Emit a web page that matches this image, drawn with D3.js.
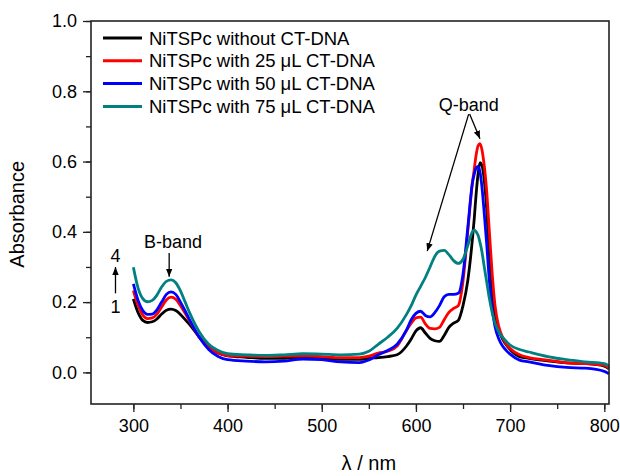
<!DOCTYPE html>
<html>
<head>
<meta charset="utf-8">
<script src="https://cdn.jsdelivr.net/npm/d3@7"></script>
<style>
  body { margin: 0; background: #fff; }
  svg { display: block; font-family: Arial, "Liberation Sans", sans-serif; }
</style>
</head>
<body>
<div id="chart"></div>
<script>
// wavelengths (nm)
const wavelengths = [300,305,310,315,320,325,330,335,340,345,350,355,360,370,380,390,400,
  420,440,460,480,500,520,540,550,560,570,580,590,595,600,605,610,615,620,625,630,635,640,645,
  650,655,660,662,664,666,668,670,672,675,678,681,684,688,692,696,700,710,720,740,760,780,800,805];

// absorbance
const absNoDNA = [.209,.17,.148,.142,.144,.152,.166,.177,.180,.176,.165,.150,.135,.100,.072,.055,.047,
  .043,.040,.040,.042,.040,.037,.037,.040,.042,.045,.050,.075,.095,.118,.127,.112,.097,.090,.088,.105,.128,.140,.148,
  .190,.260,.380,.440,.510,.565,.597,.590,.560,.470,.330,.220,.160,.120,.095,.078,.065,.045,.040,.033,.027,.025,.018,.010];
const abs25 = [.233,.19,.163,.153,.155,.166,.186,.206,.214,.208,.190,.168,.145,.100,.070,.055,.048,
  .046,.045,.046,.047,.045,.042,.042,.046,.055,.060,.075,.120,.140,.155,.157,.138,.125,.124,.128,.150,.171,.182,.190,
  .260,.400,.540,.580,.620,.645,.651,.635,.600,.520,.400,.280,.190,.130,.100,.080,.068,.050,.042,.035,.027,.025,.020,.012];
const abs50 = [.252,.205,.176,.165,.166,.178,.200,.222,.229,.222,.200,.175,.148,.100,.065,.045,.036,
  .032,.030,.032,.038,.036,.030,.028,.035,.050,.062,.080,.120,.150,.168,.174,.162,.158,.170,.190,.215,.222,.222,.225,
  .280,.410,.540,.565,.582,.586,.570,.530,.470,.370,.260,.180,.130,.095,.075,.062,.052,.035,.030,.020,.014,.012,.003,-.004];
const abs75 = [.299,.240,.210,.201,.205,.220,.243,.259,.263,.255,.232,.200,.168,.115,.080,.062,.053,
  .050,.048,.050,.053,.052,.050,.052,.060,.080,.100,.125,.165,.190,.220,.245,.270,.300,.330,.345,.347,.335,.318,.310,
  .322,.360,.400,.405,.400,.390,.370,.345,.310,.260,.210,.170,.140,.115,.100,.088,.078,.065,.058,.045,.036,.030,.025,.018];

const seriesNames = [
  'NiTSPc without CT-DNA',
  'NiTSPc with 25 \u03BCL CT-DNA',
  'NiTSPc with 50 \u03BCL CT-DNA',
  'NiTSPc with 75 \u03BCL CT-DNA'
];
const seriesValues = [absNoDNA, abs25, abs50, abs75];
const seriesColors = ['#000000', '#ff0000', '#0000ff', '#008080'];

const xTicks = [300, 400, 500, 600, 700, 800];
const yTicks = [0.0, 0.2, 0.4, 0.6, 0.8, 1.0];

const width = 620, height = 476;
const margin = { top: 21, right: 11, bottom: 72, left: 91 };
const innerW = width - margin.left - margin.right;
const innerH = height - margin.top - margin.bottom;

const svg = d3.select('#chart').append('svg')
  .attr('width', width)
  .attr('height', height);

const defs = svg.append('defs');
defs.append('marker')
  .attr('id', 'arrow')
  .attr('viewBox', '0 0 10 10')
  .attr('refX', 10).attr('refY', 5)
  .attr('markerWidth', 8).attr('markerHeight', 8)
  .attr('markerUnits', 'userSpaceOnUse')
  .attr('orient', 'auto')
  .append('path')
  .attr('d', 'M0,1 L10,5 L0,9 Z')
  .attr('fill', '#000');

const g = svg.append('g').attr('transform', `translate(${margin.left},${margin.top})`);

const x = d3.scaleLinear().domain([255, 805]).range([0, innerW]);
const y = d3.scaleLinear().domain([-0.09, 1.0]).range([innerH, 0]);

// minor ticks
g.append('g')
  .attr('transform', `translate(0,${innerH})`)
  .call(d3.axisBottom(x).tickValues(d3.range(300, 801, 50)).tickSize(5).tickFormat(''))
  .call(s => s.select('.domain').remove());
g.append('g')
  .call(d3.axisLeft(y).tickValues(d3.range(-0.1, 1.0001, 0.1).filter(v => v >= -0.09)).tickSize(5).tickFormat(''))
  .call(s => s.select('.domain').remove());

// major ticks
const xAxis = g.append('g')
  .attr('transform', `translate(0,${innerH})`)
  .call(d3.axisBottom(x).tickValues(xTicks).tickSize(8).tickPadding(7).tickFormat(d3.format('d')));
xAxis.select('.domain').remove();
const yAxis = g.append('g')
  .call(d3.axisLeft(y).tickValues(yTicks).tickSize(8).tickPadding(6).tickFormat(d3.format('.1f')));
yAxis.select('.domain').remove();

g.selectAll('.tick line').attr('stroke', '#222').attr('stroke-width', 1.3);
g.selectAll('.tick text').attr('font-size', 18).attr('fill', '#000')
  .attr('font-family', 'Arial, "Liberation Sans", sans-serif');

// curves
const line = d3.line()
  .x((d, i) => x(wavelengths[i]))
  .y(d => y(d))
  .curve(d3.curveMonotoneX);

g.append('g').selectAll('path')
  .data(seriesValues)
  .join('path')
  .attr('d', d => line(d))
  .attr('fill', 'none')
  .attr('stroke', (d, i) => seriesColors[i])
  .attr('stroke-width', 2.8)
  .attr('stroke-linejoin', 'round');

// frame
g.append('rect')
  .attr('width', innerW).attr('height', innerH)
  .attr('fill', 'none').attr('stroke', '#222').attr('stroke-width', 1.6);

// legend
const legend = g.append('g').attr('transform', 'translate(12,17)');
const items = legend.selectAll('.legend-item')
  .data(seriesNames)
  .join('g')
  .attr('class', 'legend-item')
  .attr('transform', (d, i) => `translate(0,${i * 22.8})`);
items.append('line')
  .attr('x1', 0).attr('x2', 39)
  .attr('stroke', (d, i) => seriesColors[i])
  .attr('stroke-width', 3);
items.append('text')
  .attr('x', 46).attr('y', 6.5)
  .attr('font-size', 18.5)
  .text(d => d);

// annotations
const ann = g.append('g').attr('font-size', 18).attr('fill', '#000');
ann.append('text').attr('x', x(342)).attr('y', y(0.355)).attr('text-anchor', 'middle').text('B-band');
ann.append('line')
  .attr('x1', x(338)).attr('y1', y(0.34))
  .attr('x2', x(338)).attr('y2', y(0.272))
  .attr('stroke', '#000').attr('stroke-width', 1.3).attr('marker-end', 'url(#arrow)');

ann.append('text').attr('x', x(281)).attr('y', y(0.315)).attr('text-anchor', 'middle').text('4');
ann.append('text').attr('x', x(281)).attr('y', y(0.17)).attr('text-anchor', 'middle').text('1');
ann.append('line')
  .attr('x1', x(281)).attr('y1', y(0.225))
  .attr('x2', x(281)).attr('y2', y(0.30))
  .attr('stroke', '#000').attr('stroke-width', 1.3).attr('marker-end', 'url(#arrow)');

ann.append('text').attr('x', x(656)).attr('y', y(0.745)).attr('text-anchor', 'middle').text('Q-band');
ann.append('line')
  .attr('x1', x(656)).attr('y1', y(0.735))
  .attr('x2', x(612)).attr('y2', y(0.345))
  .attr('stroke', '#000').attr('stroke-width', 1.3).attr('marker-end', 'url(#arrow)');
ann.append('line')
  .attr('x1', x(657)).attr('y1', y(0.735))
  .attr('x2', x(668)).attr('y2', y(0.665))
  .attr('stroke', '#000').attr('stroke-width', 1.3).attr('marker-end', 'url(#arrow)');

// axis titles
svg.append('text')
  .attr('x', margin.left + x(550)).attr('y', 470)
  .attr('text-anchor', 'middle')
  .attr('font-size', 20)
  .text('\u03BB / nm');
svg.append('text')
  .attr('transform', `translate(24,${margin.top + y(0.45)}) rotate(-90)`)
  .attr('text-anchor', 'middle')
  .attr('font-size', 20)
  .text('Absorbance');
</script>
</body>
</html>
